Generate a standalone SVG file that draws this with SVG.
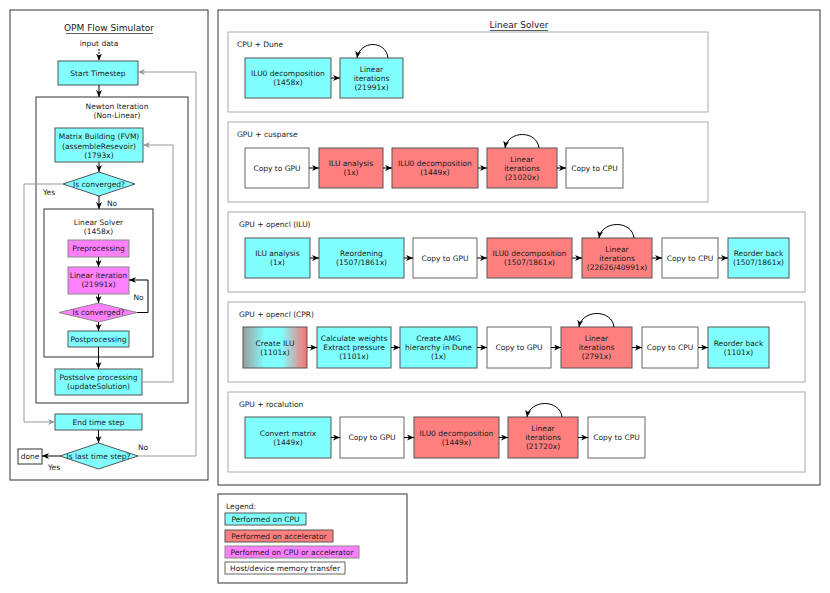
<svg xmlns="http://www.w3.org/2000/svg" width="830" height="593" viewBox="0 0 830 593">
<defs>
<style>
text{font-family:"DejaVu Sans",Verdana,sans-serif;font-size:7.5px;fill:#1a1a1a;text-anchor:middle}
.l{text-anchor:start}
.title{font-size:9px}
.frame{fill:#fff;stroke:#333;stroke-width:1}
.panel{fill:none;stroke:#aaa;stroke-width:1}
.cpu{fill:#80ffff;stroke:#555;stroke-width:1}
.acc{fill:#ff7f7f;stroke:#555;stroke-width:1}
.mix{fill:#ff80ff;stroke:#888;stroke-width:1}
.mem{fill:#fff;stroke:#666;stroke-width:1}
.grd{fill:url(#g);stroke:#555;stroke-width:1}
.c{fill:none;stroke:#000;stroke-width:1;marker-end:url(#a)}
.cg{fill:none;stroke:#999;stroke-width:1;marker-end:url(#ag)}
.u{stroke:#333;stroke-width:0.8}
</style>
<marker id="a" markerUnits="userSpaceOnUse" markerWidth="8" markerHeight="6" refX="7" refY="3" orient="auto"><path d="M0,0 L7,3 L0,6 L2,3 z" fill="#000"/></marker>
<marker id="ag" markerUnits="userSpaceOnUse" markerWidth="8" markerHeight="6" refX="7" refY="3" orient="auto"><path d="M0,0 L7,3 L0,6 L2,3 z" fill="#999"/></marker>
<linearGradient id="g" x1="0" y1="0" x2="1" y2="0">
<stop offset="0" stop-color="#9c9c9c"/><stop offset="0.35" stop-color="#80ffff"/><stop offset="0.6" stop-color="#80ffff"/><stop offset="1" stop-color="#ff6f6f"/>
</linearGradient>
</defs>
<rect width="830" height="593" fill="#fff"/>

<!-- Left panel -->
<g id="opm-frame">
<rect class="frame" x="10" y="10" width="198" height="470"/>
<text class="title" x="109" y="31">OPM Flow Simulator</text>
<line class="u" x1="66" y1="33.5" x2="153" y2="33.5"/>
<text x="99" y="46">input data</text>
</g>
<g id="newton-frame">
<rect class="frame" x="36" y="97" width="152" height="306" fill="none"/>
<text x="117" y="109">Newton Iteration</text>
<text x="117" y="118">(Non-Linear)</text>
</g>
<g id="linsolver-frame">
<rect class="frame" x="44" y="209" width="109" height="148"/>
<text x="98.5" y="225">Linear Solver</text>
<text x="98.5" y="234">(1458x)</text>
</g>
<g id="start-timestep"><rect class="cpu" x="58" y="61" width="80" height="24"/><text x="98" y="75.7">Start Timestep</text></g>
<g id="matrix-building"><rect class="cpu" x="55" y="128" width="88" height="34"/><text x="99" y="139">Matrix Building (FVM)</text><text x="99" y="148.5">(assembleResevoir)</text><text x="99" y="158">(1793x)</text></g>
<g id="newton-converged"><polygon class="cpu" points="99,172 135,184 99,196 63,184"/><text x="99" y="186.7">Is converged?</text></g>
<g id="preprocessing"><rect class="mix" x="68" y="240" width="61" height="17"/><text x="98.5" y="251.2">Preprocessing</text></g>
<g id="linear-iteration"><rect class="mix" x="68" y="267" width="61" height="27"/><text x="98.5" y="278">Linear iteration</text><text x="98.5" y="287">(21991x)</text></g>
<g id="linear-converged"><polygon class="mix" points="98.5,303 137,312.5 98.5,322 59,312.5"/><text x="98.5" y="315.2">Is converged?</text></g>
<g id="postprocessing"><rect class="cpu" x="68" y="331" width="61" height="16"/><text x="98.5" y="341.7">Postprocessing</text></g>
<g id="postsolve"><rect class="cpu" x="55" y="369" width="87" height="26"/><text x="98.5" y="380">Postsolve processing</text><text x="98.5" y="389">(updateSolution)</text></g>
<g id="end-timestep"><rect class="cpu" x="55" y="414" width="87" height="16"/><text x="98.5" y="424.7">End time step</text></g>
<g id="last-timestep"><polygon class="cpu" points="98.5,443 138,456 98.5,469 60,456"/><text x="98.5" y="458.7">Is last time step?</text></g>
<g id="done"><rect class="frame" x="18" y="449" width="24" height="15"/><text x="30" y="459">done</text></g>

<!-- Right panel frames -->
<g id="linear-solver-frame">
<rect class="frame" x="218" y="10" width="602" height="475" fill="none"/>
<text class="title" x="519" y="28">Linear Solver</text>
<line class="u" x1="490" y1="30.5" x2="548" y2="30.5"/>
</g>
<g id="panel-cpu-dune"><rect class="panel" x="228" y="32" width="480" height="80"/><text class="l" x="237" y="47">CPU + Dune</text></g>
<g id="panel-cusparse"><rect class="panel" x="228" y="122" width="480" height="80"/><text class="l" x="237" y="137">GPU + cusparse</text></g>
<g id="panel-opencl-ilu"><rect class="panel" x="228" y="212" width="577" height="80"/><text class="l" x="239" y="227">GPU + opencl (ILU)</text></g>
<g id="panel-opencl-cpr"><rect class="panel" x="228" y="302" width="577" height="80"/><text class="l" x="239" y="317">GPU + opencl (CPR)</text></g>
<g id="panel-rocalution"><rect class="panel" x="228" y="392" width="577" height="80"/><text class="l" x="239" y="407">GPU + rocalution</text></g>

<!-- Row 1 -->
<g id="dune-ilu0"><rect class="cpu" x="245" y="58" width="86" height="40"/><text x="288" y="76.2">ILU0 decomposition</text><text x="288" y="85.2">(1458x)</text></g>
<g id="dune-linear"><rect class="cpu" x="340" y="58" width="63" height="40"/><text x="371.5" y="71.7">Linear</text><text x="371.5" y="80.7">iterations</text><text x="371.5" y="89.7">(21991x)</text></g>

<!-- Row 2 -->
<g id="cus-copy-gpu"><rect class="mem" x="245" y="148" width="64" height="40"/><text x="277" y="170.7">Copy to GPU</text></g>
<g id="cus-ilu-analysis"><rect class="acc" x="319" y="148" width="64" height="40"/><text x="351" y="166.2">ILU analysis</text><text x="351" y="175.2">(1x)</text></g>
<g id="cus-ilu0"><rect class="acc" x="392" y="148" width="86" height="40"/><text x="435" y="166.2">ILU0 decomposition</text><text x="435" y="175.2">(1449x)</text></g>
<g id="cus-linear"><rect class="acc" x="487" y="148" width="70" height="40"/><text x="522" y="161.7">Linear</text><text x="522" y="170.7">iterations</text><text x="522" y="179.7">(21020x)</text></g>
<g id="cus-copy-cpu"><rect class="mem" x="566" y="148" width="57" height="40"/><text x="594.5" y="170.7">Copy to CPU</text></g>

<!-- Row 3 -->
<g id="ilu-analysis"><rect class="cpu" x="245" y="238" width="65" height="40"/><text x="277.5" y="256.2">ILU analysis</text><text x="277.5" y="265.2">(1x)</text></g>
<g id="ilu-reorder"><rect class="cpu" x="319" y="238" width="85" height="40"/><text x="361.5" y="256.2">Reordening</text><text x="361.5" y="265.2">(1507/1861x)</text></g>
<g id="ilu-copy-gpu"><rect class="mem" x="413" y="238" width="64" height="40"/><text x="445" y="260.7">Copy to GPU</text></g>
<g id="ilu-ilu0"><rect class="acc" x="487" y="238" width="85" height="40"/><text x="529.5" y="256.2">ILU0 decomposition</text><text x="529.5" y="265.2">(1507/1861x)</text></g>
<g id="ilu-linear"><rect class="acc" x="582" y="238" width="70" height="40"/><text x="617" y="251.7">Linear</text><text x="617" y="260.7">iterations</text><text x="617" y="269.7">(22626/40991x)</text></g>
<g id="ilu-copy-cpu"><rect class="mem" x="662" y="238" width="56" height="40"/><text x="690" y="260.7">Copy to CPU</text></g>
<g id="ilu-reorder-back"><rect class="cpu" x="728" y="238" width="61" height="40"/><text x="758.5" y="256.2">Reorder back</text><text x="758.5" y="265.2">(1507/1861x)</text></g>

<!-- Row 4 -->
<g id="cpr-create-ilu"><rect class="grd" x="243" y="327" width="64" height="41"/><text x="275" y="345.7">Create ILU</text><text x="275" y="354.7">(1101x)</text></g>
<g id="cpr-weights"><rect class="cpu" x="317" y="327" width="74" height="41"/><text x="354" y="341.2">Calculate weights</text><text x="354" y="350.2">Extract pressure</text><text x="354" y="359.2">(1101x)</text></g>
<g id="cpr-amg"><rect class="cpu" x="400" y="327" width="77" height="41"/><text x="438.5" y="341.2">Create AMG</text><text x="438.5" y="350.2">hierarchy in Dune</text><text x="438.5" y="359.2">(1x)</text></g>
<g id="cpr-copy-gpu"><rect class="mem" x="487" y="327" width="64" height="41"/><text x="519" y="350.2">Copy to GPU</text></g>
<g id="cpr-linear"><rect class="acc" x="561" y="327" width="71" height="41"/><text x="596.5" y="341.2">Linear</text><text x="596.5" y="350.2">iterations</text><text x="596.5" y="359.2">(2791x)</text></g>
<g id="cpr-copy-cpu"><rect class="mem" x="642" y="327" width="56" height="41"/><text x="670" y="350.2">Copy to CPU</text></g>
<g id="cpr-reorder-back"><rect class="cpu" x="708" y="327" width="61" height="41"/><text x="738.5" y="345.7">Reorder back</text><text x="738.5" y="354.7">(1101x)</text></g>

<!-- Row 5 -->
<g id="roc-convert"><rect class="cpu" x="245" y="417" width="86" height="41"/><text x="288" y="435.7">Convert matrix</text><text x="288" y="444.7">(1449x)</text></g>
<g id="roc-copy-gpu"><rect class="mem" x="340" y="417" width="64" height="41"/><text x="372" y="440.2">Copy to GPU</text></g>
<g id="roc-ilu0"><rect class="acc" x="414" y="417" width="85" height="41"/><text x="456.5" y="435.7">ILU0 decomposition</text><text x="456.5" y="444.7">(1449x)</text></g>
<g id="roc-linear"><rect class="acc" x="508" y="417" width="70" height="41"/><text x="543" y="431.2">Linear</text><text x="543" y="440.2">iterations</text><text x="543" y="449.2">(21720x)</text></g>
<g id="roc-copy-cpu"><rect class="mem" x="588" y="417" width="57" height="41"/><text x="616.5" y="440.2">Copy to CPU</text></g>

<!-- Legend -->
<g id="legend">
<rect class="frame" x="218" y="494" width="189" height="89"/>
<text class="l" x="226" y="509">Legend:</text>
<rect class="cpu" x="225" y="513" width="81" height="12"/><text x="265.5" y="521.8">Performed on CPU</text>
<rect class="acc" x="225" y="530" width="108" height="12"/><text x="279" y="538.8">Performed on accelerator</text>
<rect class="mix" x="225" y="546" width="134" height="12"/><text x="292" y="554.8">Performed on CPU or accelerator</text>
<rect class="mem" x="225" y="562" width="120" height="12"/><text x="285" y="570.8">Host/device memory transfer</text>
</g>

<!-- Connectors -->
<g id="connectors">
<path class="c" d="M99,49 V60.5" stroke-dasharray="2,1"/>
<path class="c" d="M99,85 V97"/>
<path class="c" d="M99,162 V172"/>
<path class="cg" d="M63,184 H24 V422 H55"/>
<path class="c" d="M99,196 V209"/>
<path class="c" d="M98.5,257 V267"/>
<path class="c" d="M98.5,294 V303"/>
<path class="c" d="M137,312.5 H148 V280 H129"/>
<path class="c" d="M98.5,322 V331"/>
<path class="c" d="M98.5,347 V369"/>
<path class="cg" d="M142,382 H173 V145 H143"/>
<path class="c" d="M98.5,430 V443"/>
<path class="c" d="M60,456 H42"/>
<path class="cg" d="M138,456 H196 V72 H138"/>

<path class="c" d="M331,78 H340"/>
<path class="c" d="M388,58 C386,40 360,40 357,58"/>

<path class="c" d="M309,168 H319"/>
<path class="c" d="M383,168 H392"/>
<path class="c" d="M478,168 H487"/>
<path class="c" d="M557,168 H566"/>
<path class="c" d="M539,148 C537,130 508,130 505,148"/>

<path class="c" d="M310,258 H319"/>
<path class="c" d="M404,258 H413"/>
<path class="c" d="M477,258 H487"/>
<path class="c" d="M572,258 H582"/>
<path class="c" d="M652,258 H662"/>
<path class="c" d="M718,258 H728"/>
<path class="c" d="M634,238 C632,220 602,220 599,238"/>

<path class="c" d="M307,347.5 H317"/>
<path class="c" d="M391,347.5 H400"/>
<path class="c" d="M477,347.5 H487"/>
<path class="c" d="M551,347.5 H561"/>
<path class="c" d="M632,347.5 H642"/>
<path class="c" d="M698,347.5 H708"/>
<path class="c" d="M614,327 C612,309 582,309 579,327"/>

<path class="c" d="M331,437.5 H340"/>
<path class="c" d="M404,437.5 H414"/>
<path class="c" d="M499,437.5 H508"/>
<path class="c" d="M578,437.5 H588"/>
<path class="c" d="M562,417 C560,399 530,399 527,417"/>
</g>

<!-- Labels on left flow -->
<g id="flow-labels">
<text x="49" y="195">Yes</text>
<text x="112" y="206">No</text>
<text x="138.5" y="300">No</text>
<text x="143" y="450">No</text>
<text x="54" y="470">Yes</text>
</g>
</svg>
